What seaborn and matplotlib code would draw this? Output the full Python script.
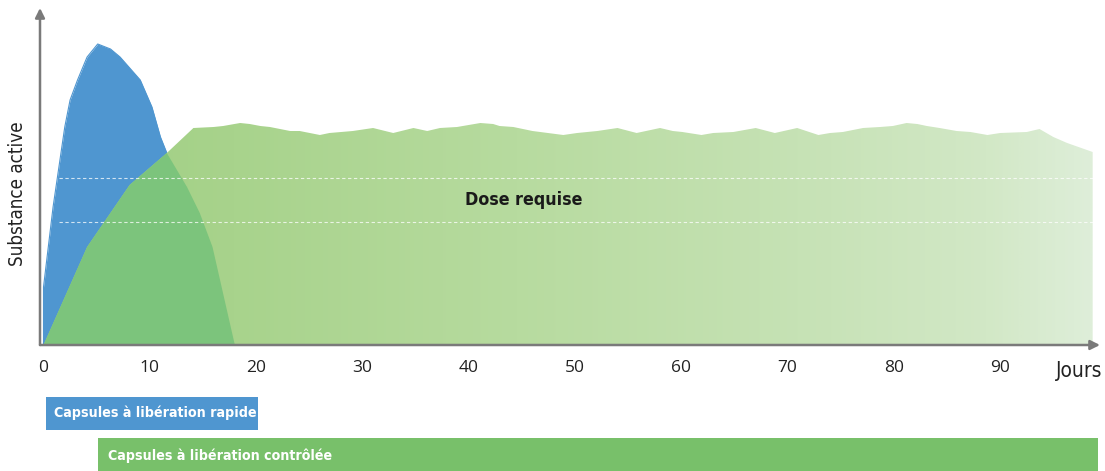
import numpy as np
import seaborn as sns
import matplotlib.pyplot as plt
from matplotlib.patches import Polygon, Rectangle
from matplotlib.colors import LinearSegmentedColormap
from matplotlib.transforms import blended_transform_factory

# courbes (jours, substance active en unités arbitraires)
blue_days = [0, 0, 0.9, 2.0, 2.5, 3.2, 4.1, 5.1, 6.3, 7.2, 9.1, 10.2, 11.0, 11.6, 13.5, 14.7, 15.9, 18.0]
blue_vals = [0, 58, 138, 218, 245, 265, 288, 301, 296, 288, 265, 238, 208, 192, 158, 132, 98, 0]

green_days = [0, 4.1, 8.1, 11.6, 14.1, 16.0, 16.9, 18.5, 19.4, 20.4,
              21.3, 23.2, 24.1, 26.0, 26.9, 29.1, 31.0, 32.9, 34.8, 36.1,
              37.3, 38.9, 41.1, 42.3, 42.9, 44.2, 46.0, 48.9, 50.2, 52.1,
              54.0, 55.8, 58.0, 59.2, 60.1, 61.9, 63.0, 64.9, 67.0, 68.8,
              70.9, 72.9, 74.0, 75.2, 77.1, 78.7, 79.9, 81.2, 82.2, 83.1,
              84.3, 85.9, 87.2, 88.8, 90.0, 92.5, 93.7, 95.0, 96.3, 98.7]
green_vals = [0, 98, 160, 192, 217, 218, 219, 222, 221, 219,
              218, 214, 214, 210, 212, 214, 217, 212, 217, 214,
              217, 218, 222, 221, 219, 218, 214, 210, 212, 214,
              217, 212, 217, 214, 213, 210, 212, 213, 217, 212,
              217, 210, 212, 213, 217, 218, 219, 222, 221, 219,
              217, 214, 213, 210, 212, 213, 216, 208, 202, 193]

dose_band = [123, 167]
x_ticks = [0, 10, 20, 30, 40, 50, 60, 70, 80, 90]

blue = '#4f96d0'
overlap = '#7cc47c'
box_green = '#78c06a'
axis_grey = '#7a7a7a'

sns.set_theme(style='white')
narrow = dict(family=['DejaVu Sans'], stretch='condensed')
plt.rcParams['font.family'] = ['Open Sans', 'DejaVu Sans']

fig = plt.figure(figsize=(11.05, 4.71), dpi=100)
ax = fig.add_axes([40 / 1105, 1 - 345 / 471, 1060 / 1105, 337 / 471])
ax.set_xlim(-0.33, 99.39)
ax.set_ylim(0, 337)

# capsules à libération rapide
ax.fill_between(blue_days, blue_vals, 0, color=blue, lw=0, zorder=1)
sns.lineplot(x=blue_days, y=blue_vals, ax=ax, color=blue, lw=0.8,
             estimator=None, sort=False, zorder=1)

# capsules à libération contrôlée : dégradé vert
green_poly = np.column_stack([green_days + [green_days[-1], 0], green_vals + [0, 0]])
clip = Polygon(green_poly, closed=True, transform=ax.transData, fc='none', ec='none')
ax.add_patch(clip)
cmap = LinearSegmentedColormap.from_list('g', [(0, '#9fcf82'), (0.18, '#a8d38c'),
                                               (0.45, '#b7db9f'), (0.72, '#c6e2b5'),
                                               (0.9, '#d2e8c6'), (1, '#deeed9')])
grad = np.linspace(0, 1, 400).reshape(1, -1)
im = ax.imshow(grad, cmap=cmap, extent=[0, green_days[-1], 0, 240], aspect='auto',
               zorder=2, interpolation='bilinear')
im.set_clip_path(clip)

# zone de recouvrement
over = Polygon(green_poly, closed=True, fc=overlap, ec='none', zorder=3)
ax.add_patch(over)
blue_clip = Polygon(np.column_stack([blue_days, blue_vals]), closed=True,
                    transform=ax.transData, fc='none', ec='none')
ax.add_patch(blue_clip)
over.set_clip_path(blue_clip)

# dose requise
for lvl in dose_band:
    ax.plot([1.5, 98.7], [lvl, lvl], color='white', alpha=0.75, lw=0.8,
            ls=(0, (3, 2.3)), zorder=4)
ax.text(45.2, 145, 'Dose requise', ha='center', va='center', fontsize=12.8,
        fontweight='bold', color='#1a1a1a', zorder=5, **narrow)

# axes avec flèches
for s in ax.spines.values():
    s.set_visible(False)
ax.annotate('', xy=(1, 0), xytext=(0, 0), xycoords='axes fraction',
            arrowprops=dict(arrowstyle='-|>', color=axis_grey, lw=1.8,
                            mutation_scale=14, shrinkA=0, shrinkB=0), zorder=6)
ax.annotate('', xy=(0, 1), xytext=(0, 0), xycoords='axes fraction',
            arrowprops=dict(arrowstyle='-|>', color=axis_grey, lw=1.8,
                            mutation_scale=14, shrinkA=0, shrinkB=0), zorder=6)

ax.set_xticks(x_ticks)
ax.set_xticklabels([str(t) for t in x_ticks])
ax.set_yticks([])
ax.tick_params(axis='x', length=0, pad=11, labelsize=12.5, labelcolor='#222222')
ax.grid(False)

fig.text(1079 / 1105, 1 - 371 / 471, 'Jours', ha='center', va='center',
         fontsize=15, color='#222222', **narrow)
fig.text(18 / 1105, 1 - 194 / 471, 'Substance active', ha='center', va='center',
         rotation=90, fontsize=13.5, color='#222222', **narrow)

# bandeaux en bas
tr = blended_transform_factory(ax.transData, fig.transFigure)
ax.add_patch(Rectangle((0.2, 1 - 430 / 471), 20.0, 33 / 471, transform=tr,
                       fc=blue, ec='none', clip_on=False))
ax.text(0.97, 1 - 413 / 471, 'Capsules à libération rapide', transform=tr,
        ha='left', va='center', fontsize=10.2, fontweight='bold', color='white',
        **narrow)
ax.add_patch(Rectangle((5.1, -0.02), 94.1, 1 - 438 / 471 + 0.02, transform=tr,
                       fc=box_green, ec='none', clip_on=False))
ax.text(6.06, 1 - 456 / 471, 'Capsules à libération contrôlée', transform=tr,
        ha='left', va='center', fontsize=10.2, fontweight='bold', color='white',
        **narrow)

fig.savefig('out.png', dpi=100)
